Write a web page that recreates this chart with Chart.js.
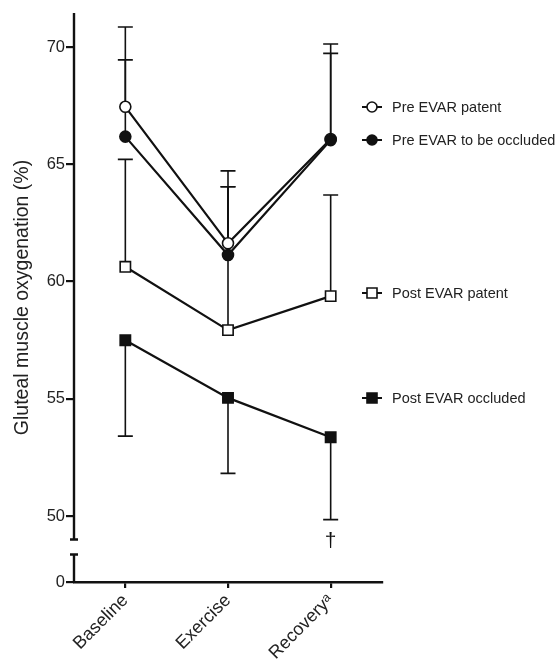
<!DOCTYPE html>
<html lang="en">
<head>
    <meta charset="UTF-8">
    <title>Gluteal muscle oxygenation</title>
    <style>
        body, html {
            margin: 0;
            padding: 0;
            background: #fff;
        }
        .chart-box {
            width: 555px;
            height: 665px;
            position: relative;
        }
    </style>
    <script src="https://cdn.jsdelivr.net/npm/chart.js"></script>
</head>
<body>
    <div class="chart-box">
        <canvas id="oxyChart"></canvas>
    </div>

    <script>
        // categories and tick values
        const categories = ['Baseline', 'Exercise', 'Recovery\u1D43'];
        const yTicks = [50, 55, 60, 65, 70];
        const zeroAt = 47.19;      // where the "0" label sits below the axis break
        const breakTop = 49.0;     // upper segment of the y axis stops here
        const breakBottom = 48.36; // lower segment starts here

        // series means
        const prePatent = [67.45, 61.63, 66.08];
        const preOccluded = [66.18, 61.13, 66.03];
        const postPatent = [60.63, 57.93, 59.38];
        const postOccluded = [57.50, 55.04, 53.36];

        // error bar ends (one-sided)
        const prePatentUpper = [70.85, 64.72, 70.13];
        const preOccludedUpper = [69.45, 64.04, 69.73];
        const postPatentUpper = [65.21, 64.04, 63.69];
        const postOccludedLower = [53.41, 51.82, 49.85];

        const labels = ['Pre EVAR patent', 'Pre EVAR to be occluded', 'Post EVAR patent', 'Post EVAR occluded'];
        const legendY = [107, 140, 293, 398]; // pixel rows of the legend entries

        const black = '#111';

        // error bars drawn behind the lines
        const errorBars = {
            id: 'errorBars',
            beforeDatasetsDraw(chart) {
                const ctx = chart.ctx;
                const x = chart.scales.x;
                const y = chart.scales.y;
                const sets = [
                    [prePatent, prePatentUpper],
                    [preOccluded, preOccludedUpper],
                    [postPatent, postPatentUpper],
                    [postOccluded, postOccludedLower]
                ];
                ctx.save();
                ctx.strokeStyle = black;
                ctx.lineWidth = 1.6;
                sets.forEach(([mean, end]) => {
                    mean.forEach((m, i) => {
                        const px = x.getPixelForValue(i);
                        const y0 = y.getPixelForValue(m);
                        const y1 = y.getPixelForValue(end[i]);
                        ctx.beginPath();
                        ctx.moveTo(px, y0);
                        ctx.lineTo(px, y1);
                        ctx.moveTo(px - 7.5, y1);
                        ctx.lineTo(px + 7.5, y1);
                        ctx.stroke();
                    });
                });
                // dagger under the last occluded bar
                ctx.fillStyle = black;
                ctx.font = '21px "Liberation Sans", Arial, sans-serif';
                ctx.textAlign = 'center';
                ctx.textBaseline = 'middle';
                ctx.fillText('\u2020', x.getPixelForValue(2), y.getPixelForValue(postOccludedLower[2]) + 22);
                ctx.restore();
            }
        };

        // broken y axis line
        const brokenAxis = {
            id: 'brokenAxis',
            afterDraw(chart) {
                const ctx = chart.ctx;
                const y = chart.scales.y;
                const a = chart.chartArea;
                const left = a.left;
                const yTop = y.getPixelForValue(breakTop);
                const yBot = y.getPixelForValue(breakBottom);
                ctx.save();
                ctx.strokeStyle = black;
                ctx.lineWidth = 2.4;
                ctx.beginPath();
                ctx.moveTo(left, a.top);
                ctx.lineTo(left, yTop);
                ctx.moveTo(left - 4, yTop);
                ctx.lineTo(left + 4, yTop);
                ctx.moveTo(left - 4, yBot);
                ctx.lineTo(left + 4, yBot);
                ctx.moveTo(left, yBot);
                ctx.lineTo(left, a.bottom + 1);
                ctx.stroke();
                ctx.restore();
            }
        };

        // legend on the right, GraphPad style
        const sideLegend = {
            id: 'sideLegend',
            afterDraw(chart) {
                const ctx = chart.ctx;
                ctx.save();
                chart.data.datasets.forEach((ds, i) => {
                    const yy = legendY[i];
                    const cx = 372;
                    ctx.strokeStyle = black;
                    ctx.lineWidth = 2;
                    ctx.beginPath();
                    ctx.moveTo(362, yy);
                    ctx.lineTo(382, yy);
                    ctx.stroke();
                    ctx.fillStyle = ds.pointBackgroundColor;
                    ctx.lineWidth = 1.6;
                    ctx.beginPath();
                    if (ds.pointStyle === 'rect') {
                        ctx.rect(cx - 5, yy - 5, 10, 10);
                    } else {
                        ctx.arc(cx, yy, 5, 0, Math.PI * 2);
                    }
                    ctx.fill();
                    ctx.stroke();
                    ctx.fillStyle = '#222';
                    ctx.font = '14.5px "Liberation Sans", Arial, sans-serif';
                    ctx.textAlign = 'left';
                    ctx.textBaseline = 'middle';
                    ctx.fillText(ds.label, 392, yy + 1);
                });
                ctx.restore();
            }
        };

        function series(label, data, style, fill, radius, order) {
            return {
                label: label,
                data: data,
                order: order,
                borderColor: black,
                borderWidth: 2.2,
                tension: 0,
                fill: false,
                pointStyle: style,
                pointRadius: radius,
                pointBackgroundColor: fill,
                pointBorderColor: black,
                pointBorderWidth: 1.6
            };
        }

        const ctx = document.getElementById('oxyChart').getContext('2d');
        new Chart(ctx, {
            type: 'line',
            data: {
                labels: categories,
                datasets: [
                    series(labels[0], prePatent, 'circle', '#fff', 5.5, 2),
                    series(labels[1], preOccluded, 'circle', black, 5.5, 0),
                    series(labels[2], postPatent, 'rect', '#fff', 7.3, 1),
                    series(labels[3], postOccluded, 'rect', black, 7.3, 1)
                ]
            },
            options: {
                responsive: true,
                maintainAspectRatio: false,
                animation: false,
                layout: {
                    padding: { top: 13, right: 173, left: 0, bottom: 0 }
                },
                plugins: {
                    legend: { display: false },
                    tooltip: { enabled: false }
                },
                scales: {
                    x: {
                        offset: true,
                        afterFit(scale) { scale.height = 83; },
                        border: { display: true, color: black, width: 2.4 },
                        grid: {
                            drawOnChartArea: false,
                            drawTicks: true,
                            tickLength: 6,
                            color: black,
                            lineWidth: 2.2
                        },
                        ticks: {
                            color: '#222',
                            minRotation: 45,
                            maxRotation: 45,
                            padding: 2,
                            font: { family: '"Liberation Sans", Arial, sans-serif', size: 18 }
                        }
                    },
                    y: {
                        min: zeroAt,
                        max: 71.45,
                        afterFit(scale) { scale.width = 74; },
                        afterBuildTicks(scale) {
                            scale.ticks = [zeroAt].concat(yTicks).map(v => ({ value: v }));
                        },
                        border: { display: false },
                        grid: {
                            drawOnChartArea: false,
                            drawTicks: true,
                            tickLength: 8,
                            color: black,
                            lineWidth: 2.2
                        },
                        ticks: {
                            color: '#222',
                            padding: 1,
                            font: { family: '"Liberation Sans", Arial, sans-serif', size: 16.5 },
                            callback: v => (v === zeroAt ? '0' : v)
                        },
                        title: {
                            display: true,
                            text: 'Gluteal muscle oxygenation (%)',
                            color: '#222',
                            padding: { top: 11, bottom: 0 },
                            font: { family: '"Liberation Sans", Arial, sans-serif', size: 19.5 }
                        }
                    }
                }
            },
            plugins: [errorBars, brokenAxis, sideLegend]
        });
    </script>
</body>
</html>
